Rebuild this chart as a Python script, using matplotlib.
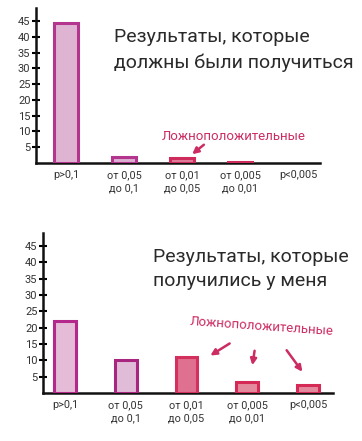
import matplotlib
matplotlib.use("Agg")
import matplotlib.pyplot as plt

plt.rcParams['font.family'] = ['Roboto', 'DejaVu Sans']

categories = ["p>0,1", "от 0,05\nдо 0,1", "от 0,01\nдо 0,05", "от 0,005\nдо 0,01", "p<0,005"]
expected = [44.5, 2.0, 1.5, 0.3, 0.0]
observed = [22.0, 10.0, 11.0, 3.5, 2.5]
yticks = [5, 10, 15, 20, 25, 30, 35, 40, 45]
title_top = "Результаты, которые\nдолжны были получиться"
title_bottom = "Результаты, которые\nполучились у меня"
fp_label = "Ложноположительные"

edge_top = ["#b3358e", "#b3358e", "#cf2a5c", "#cf2a5c", "none"]
fill_top = ["#dfb4d2", "#dcb0d2", "#e07d9d", "#e07d9d", "none"]
edge_bot = ["#b3288a", "#a8267f", "#d4305e", "#d42a55", "#d42a55"]
fill_bot = ["#e4bcd8", "#e0bcd8", "#e0708f", "#e48a9e", "#e48a9e"]
accent = "#cc2c62"
W, H = 362, 441

fig = plt.figure(figsize=(W / 100, H / 100), dpi=100)

def fx(px):
    return px / W

def fy(py):
    return 1 - py / H

def style(ax, xl, xr, ytop):
    ax.set_xlim(xl, xr)
    ax.set_ylim(0, ytop)
    for s in ["top", "right"]:
        ax.spines[s].set_visible(False)
    for s in ["left", "bottom"]:
        ax.spines[s].set_linewidth(1.8)
        ax.spines[s].set_color("#111111")
    ax.set_yticks(yticks)
    ax.set_yticklabels([str(v) for v in yticks], fontsize=8, color="#333333")
    ax.tick_params(axis="y", direction="inout", length=6, width=1.5, pad=1)
    ax.set_xticks(range(len(categories)))
    ax.set_xticklabels(categories, fontsize=7.8, color="#333333", linespacing=1.4, va="top")
    ax.tick_params(axis="x", length=0, pad=5)
    ax.patch.set_alpha(0)

# top chart: axis x 36..320 px, baseline y 163, top 8
ax1 = fig.add_axes([fx(36), fy(163), fx(320) - fx(36), fy(8) - fy(163)])
style(ax1, -0.52, 4.38, 155 / 3.156)
ax1.bar(range(len(categories)), expected, width=0.42, color=fill_top,
        edgecolor=edge_top, linewidth=2.2, zorder=3)
fig.text(fx(114), fy(50), title_top, fontsize=14, color="#2a2a2a",
         va="center", ha="left", linespacing=1.5)
fig.text(fx(234), fy(136), fp_label, fontsize=9.5, color=accent, ha="center", va="center")
ax1.annotate("", xy=(fx(190), fy(156)), xycoords="figure fraction",
             xytext=(fx(206), fy(143)), textcoords="figure fraction",
             arrowprops=dict(arrowstyle="-|>", color=accent, lw=1.8, mutation_scale=9))

# bottom chart: axis x 43..333 px, baseline y 393, top 233
ax2 = fig.add_axes([fx(43), fy(393), fx(333) - fx(43), fy(233) - fy(393)])
style(ax2, -0.36, 4.41, 160 / 3.27)
ax2.bar(range(len(categories)), observed, width=0.36, color=fill_bot,
        edgecolor=edge_bot, linewidth=2.2, zorder=3)
fig.text(fx(153), fy(269), title_bottom, fontsize=14, color="#2a2a2a",
         va="center", ha="left", linespacing=1.5)
fig.text(fx(262), fy(327), fp_label, fontsize=9.5, color=accent, ha="center",
         va="center", rotation=-4)
for (x0, y0, x1, y1) in [(232, 342, 208, 357), (255, 348, 252, 368), (285, 348, 304, 374)]:
    ax2.annotate("", xy=(fx(x1), fy(y1)), xycoords="figure fraction",
                 xytext=(fx(x0), fy(y0)), textcoords="figure fraction",
                 arrowprops=dict(arrowstyle="-|>", color=accent, lw=1.8, mutation_scale=9))

fig.savefig("out.png", dpi=100, facecolor="white")
